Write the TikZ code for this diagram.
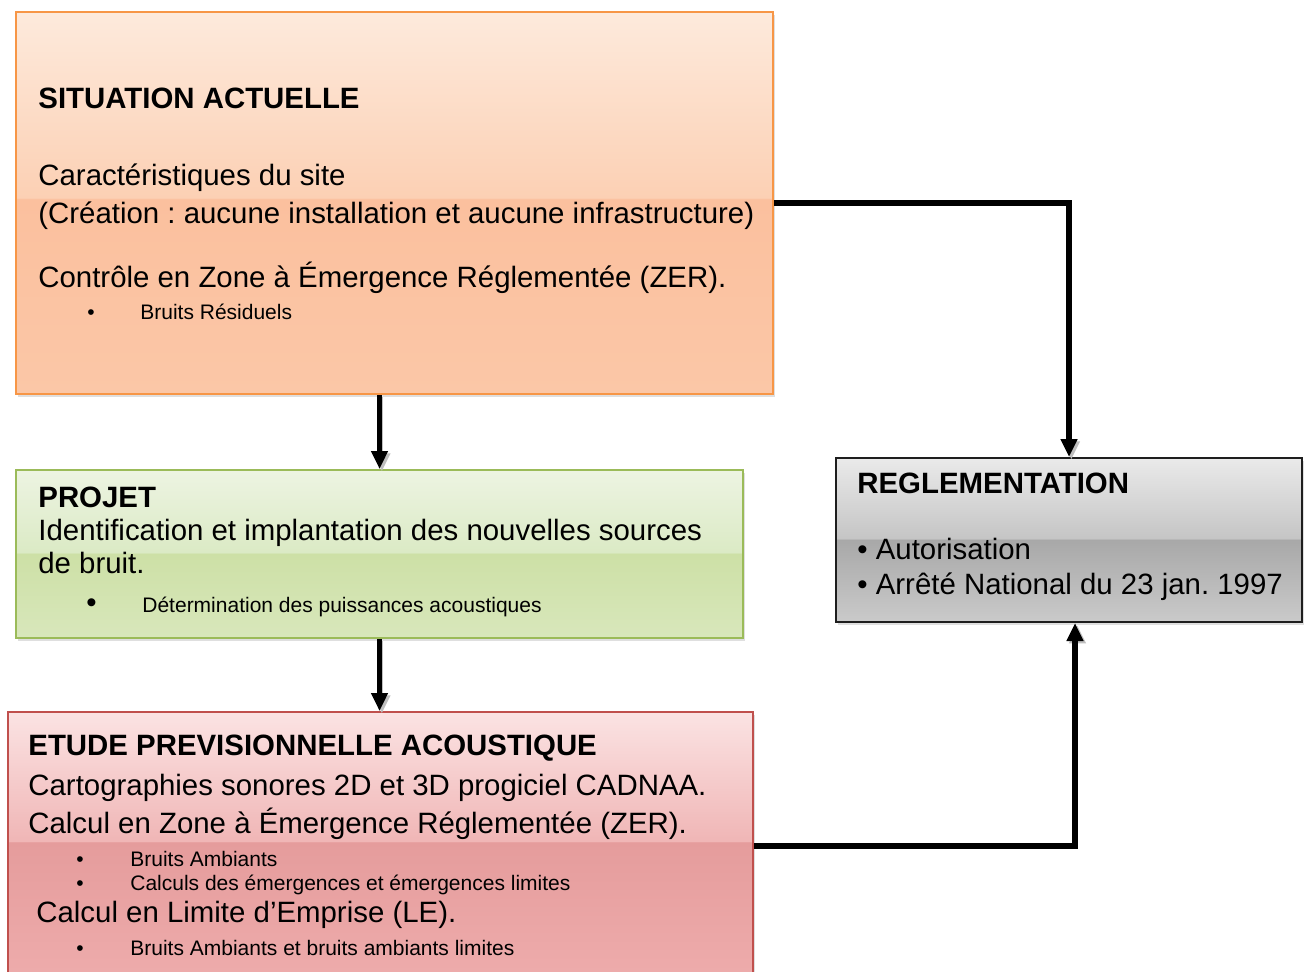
\documentclass[tikz,border=0pt]{standalone}
\usepackage{fontspec}
\setmainfont{Liberation Sans}
\usetikzlibrary{arrows.meta, positioning, shadows, fit}
\frenchspacing

% box colours
\definecolor{oraLine}{RGB}{247,150,70}
\definecolor{oraTop}{RGB}{253,234,220}
\definecolor{oraUp}{RGB}{252,208,180}
\definecolor{oraLow}{RGB}{251,192,158}
\definecolor{oraBot}{RGB}{251,199,167}
\definecolor{grnLine}{RGB}{155,187,89}
\definecolor{grnTop}{RGB}{237,244,226}
\definecolor{grnUp}{RGB}{219,234,197}
\definecolor{grnLow}{RGB}{205,224,166}
\definecolor{grnBot}{RGB}{216,231,187}
\definecolor{redLine}{RGB}{192,80,77}
\definecolor{redTop}{RGB}{251,227,227}
\definecolor{redUp}{RGB}{240,182,182}
\definecolor{redLow}{RGB}{229,156,156}
\definecolor{redBot}{RGB}{238,172,172}
\definecolor{gryLine}{RGB}{30,30,30}
\definecolor{gryTop}{RGB}{234,234,234}
\definecolor{gryUp}{RGB}{197,197,197}
\definecolor{gryLow}{RGB}{168,168,168}
\definecolor{gryBot}{RGB}{202,202,202}

\pgfdeclareverticalshading{orashade}{100bp}{color(0bp)=(oraBot); color(25bp)=(oraBot); color(50.5bp)=(oraLow); color(50.7bp)=(oraUp); color(75bp)=(oraTop); color(100bp)=(oraTop)}
\pgfdeclareverticalshading{grnshade}{100bp}{color(0bp)=(grnBot); color(25bp)=(grnBot); color(50.2bp)=(grnLow); color(50.4bp)=(grnUp); color(75bp)=(grnTop); color(100bp)=(grnTop)}
\pgfdeclareverticalshading{redshade}{100bp}{color(0bp)=(redBot); color(25bp)=(redBot); color(50.7bp)=(redLow); color(50.9bp)=(redUp); color(75bp)=(redTop); color(100bp)=(redTop)}
\pgfdeclareverticalshading{gryshade}{100bp}{color(0bp)=(gryBot); color(25bp)=(gryBot); color(50.2bp)=(gryLow); color(50.4bp)=(gryUp); color(75bp)=(gryTop); color(100bp)=(gryTop)}

\begin{document}
\begin{tikzpicture}[x=0.5pt, y=-0.5pt,
    box/.style={draw, line width=1pt, inner sep=0pt, shade,
        drop shadow={shadow xshift=1pt, shadow yshift=-1.5pt, opacity=0.25}},
    txt/.style={anchor=base west, inner sep=0pt, font=\fontsize{14.7}{17}\selectfont},
    headtxt/.style={txt, font=\fontsize{14.7}{17}\selectfont\bfseries},
    smalltxt/.style={txt, font=\fontsize{10.5}{12}\selectfont},
    flow/.style={line width=2.6pt, -{Triangle[width=8pt, length=9pt]},
        preaction={draw=black!25, transform canvas={shift={(1.2pt,-1.2pt)}}}}]
    \useasboundingbox (0,0) rectangle (1307,971);

    % boxes
    \node[box, draw=oraLine, shading=orashade, fit={(16,12) (773,394)}] (actuel) {};
    \node[box, draw=grnLine, shading=grnshade, fit={(16,470) (743,638)}] (projet) {};
    \node[box, draw=redLine, shading=redshade, fit={(8,712) (753,980)}] (etude) {};
    \node[box, draw=gryLine, shading=gryshade, fit={(836,458) (1302,622)}] (regle) {};

    % arrows
    \draw[flow] (actuel.south -| projet.north) -- (projet.north);
    \draw[flow] (projet.south) -- (projet.south |- etude.north);
    \draw[flow] (actuel.east) -| (regle.north);
    \draw[flow] (etude.east) -| ([xshift=3pt]regle.south);

    % situation actuelle
    \node[headtxt] (actuel-title) at (38,108) {SITUATION ACTUELLE};
    \node[txt] (actuel-site) at (38,185) {Caractéristiques du site};
    \node[txt] (actuel-creat) at (38,223) {(Création : aucune installation et aucune infrastructure)};
    \node[txt] (actuel-zer) at (38,287) {Contrôle en Zone à Émergence Réglementée (ZER).};
    \node[smalltxt] (actuel-dot) at (87,319) {•};
    \node[smalltxt] (actuel-res) at (140,319) {Bruits Résiduels};

    % projet
    \node[headtxt] (projet-title) at (38,507) {PROJET};
    \node[txt] (projet-id) at (38,540) {Identification et implantation des nouvelles sources};
    \node[txt] (projet-id2) at (38,573) {de bruit.};
    \node[txt] (projet-dot) at (86,612) {•};
    \node[smalltxt] (projet-puis) at (142,612) {Détermination des puissances acoustiques};

    % etude previsionnelle
    \node[headtxt] (etude-title) at (28,755) {ETUDE PREVISIONNELLE ACOUSTIQUE};
    \node[txt] (etude-carto) at (28,795) {Cartographies sonores 2D et 3D progiciel CADNAA.};
    \node[txt] (etude-zer) at (28,833) {Calcul en Zone à Émergence Réglementée (ZER).};
    \node[smalltxt] (etude-dot1) at (76,866) {•};
    \node[smalltxt] (etude-amb) at (130,866) {Bruits Ambiants};
    \node[smalltxt] (etude-dot2) at (76,890) {•};
    \node[smalltxt] (etude-emer) at (130,890) {Calculs des émergences et émergences limites};
    \node[txt] (etude-le) at (36,922) {Calcul en Limite d’Emprise (LE).};
    \node[smalltxt] (etude-dot3) at (76,955) {•};
    \node[smalltxt] (etude-lim) at (130,955) {Bruits Ambiants et bruits ambiants limites};

    % reglementation
    \node[headtxt] (regle-title) at (857,493) {REGLEMENTATION};
    \node[txt] (regle-auto) at (857,559) {• Autorisation};
    \node[txt] (regle-arrete) at (857,594) {• Arrêté National du 23 jan. 1997};
\end{tikzpicture}
\end{document}
